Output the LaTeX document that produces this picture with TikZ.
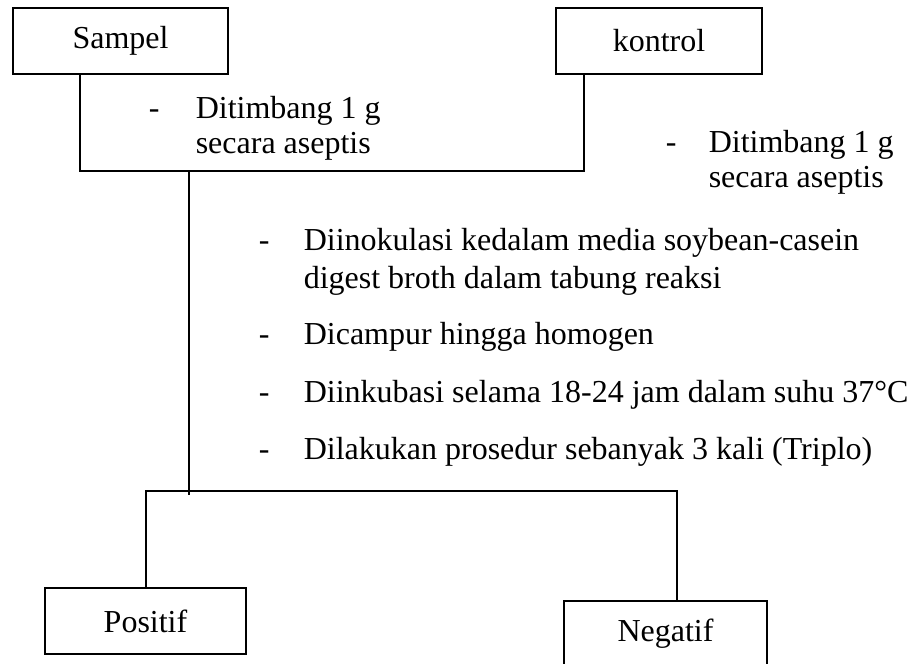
\documentclass[tikz,border=0pt]{standalone}
\usepackage{fontspec}
\setmainfont{Liberation Serif}
\usetikzlibrary{positioning}
\tikzset {
  every node/.style={font=\fontsize{16}{19}\selectfont},
  box/.style={draw,line width=0.8pt,minimum height=33pt,inner sep=0pt},
  txt/.style={anchor=base west,inner sep=0pt},
}

\begin{document}
\begin{tikzpicture}[x=0.5pt,y=-0.5pt,line width=0.8pt]
          \useasboundingbox (0,0) rectangle (918,664);

          \node[box,minimum width=107.5pt] (sampel) at (120.5,41) {Sampel};
          \node[box,minimum width=103pt] (kontrol) at (659,41) {kontrol};
          \node[box,minimum width=100.5pt] (positif) at (145.5,621) {Positif};
          \node[box,minimum width=101.5pt] (negatif) at (665.5,634) {Negatif};

          \coordinate (ja) at (80,171);
          \coordinate (jb) at (584,171);
          \coordinate (jc) at (189,171);
          \coordinate (jd) at (189,495);
          \coordinate (ba) at (146,491);
          \coordinate (bb) at (677,491);

          \draw (sampel.south -| ja) -- (ja) -- (jb) -- (kontrol.south -| jb);
          \draw (jc) -- (jd);
          \draw (positif.north -| ba) -- (ba) -- (bb) -- (negatif.north -| bb);

          \node[txt] (ds) at (148,119) {-};
          \node[txt] (sa) at (195,119) {Ditimbang 1 g};
          \node[txt] (sb) at (195,154) {secara aseptis};

          \node[txt] (dk) at (665,152) {-};
          \node[txt] (ka) at (708,152) {Ditimbang 1 g};
          \node[txt] (kb) at (708,187) {secara aseptis};

          \node[txt] (d1) at (258,250) {-};
          \node[txt] (p1a) at (303,250) {Diinokulasi kedalam media soybean-casein};
          \node[txt] (p1b) at (303,288) {digest broth dalam tabung reaksi};
          \node[txt] (d2) at (258,344) {-};
          \node[txt] (p2) at (303,344) {Dicampur hingga homogen};
          \node[txt] (d3) at (258,402) {-};
          \node[txt] (p3) at (303,402) {Diinkubasi selama 18-24 jam dalam suhu 37°C};
          \node[txt] (d4) at (258,459) {-};
          \node[txt] (p4) at (303,459) {Dilakukan prosedur sebanyak 3 kali (Triplo)};
        \end{tikzpicture}
\end{document}
